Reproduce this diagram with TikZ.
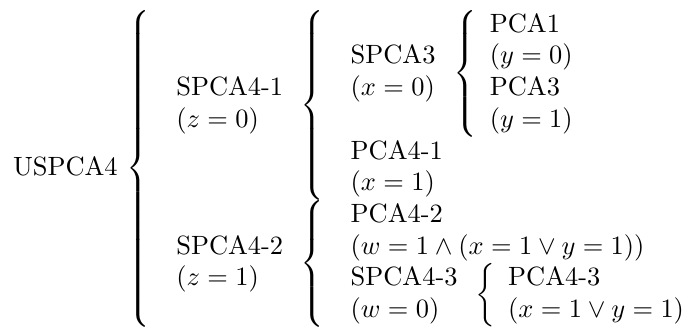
\documentclass[tikz,border=0pt]{standalone}
\usepackage{amsmath}
\newsavebox\treebox
\newlength\treew
\begin{document}
\sbox\treebox{$\mbox{USPCA4}\,\left\{\begin{array}{l}
 \begin{array}{l}\mbox{SPCA4-1}\\(z=0)\end{array}\left\{\begin{array}{l}
   \begin{array}{l}\mbox{SPCA3}\\(x=0)\end{array}\left\{\begin{array}{l}\mbox{PCA1}\\(y=0)\\\mbox{PCA3}\\(y=1)\end{array}\right.\\
   \begin{array}{l}\mbox{PCA4-1}\\(x=1)\end{array}
 \end{array}\right.\\
 \begin{array}{l}\mbox{SPCA4-2}\\(z=1)\end{array}\left\{\begin{array}{l}
   \begin{array}{l}\mbox{PCA4-2}\\(w=1\wedge(x=1\vee y=1))\end{array}\\
   \begin{array}{l}\mbox{SPCA4-3}\\(w=0)\end{array}\left\{\begin{array}{l}\mbox{PCA4-3}\\(x=1\vee y=1)\end{array}\right.
 \end{array}\right.
\end{array}\right.$}%
\begin{tikzpicture}
\tikzset{formula/.style={inner sep=0pt, outer sep=0pt, anchor=north west}}
\setlength\treew{\wd\treebox}\addtolength\treew{-18.6pt}
\pgfmathsetmacro\pxu{\treew/671}
\pgfmathsetlengthmacro\bbl{-13*\pxu}
\pgfmathsetlengthmacro\bbr{673*\pxu}
\pgfmathsetlengthmacro\bbt{10*\pxu}
\pgfmathsetlengthmacro\bbb{(10-332)*\pxu}
\useasboundingbox (\bbl,\bbt) rectangle (\bbr,\bbb);
\node[formula] (tree) at (0,0) {\usebox\treebox};
\end{tikzpicture}
\end{document}
